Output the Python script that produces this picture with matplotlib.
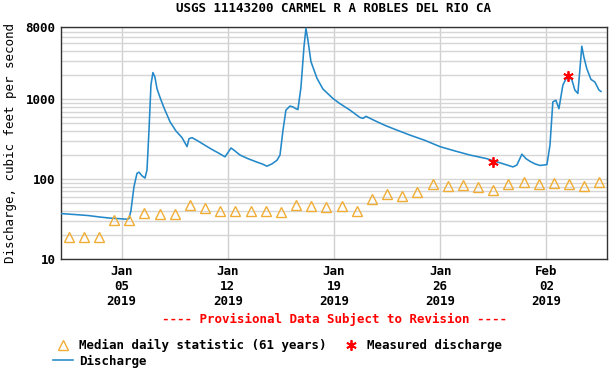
import matplotlib
matplotlib.use("Agg")
import matplotlib.pyplot as plt
import numpy as np
import pandas as pd
from matplotlib.lines import Line2D
from matplotlib.ticker import FixedLocator, NullFormatter

START = pd.Timestamp("2019-01-01")

# median daily statistic, one value per day (Jan 1 .. Feb 5), plotted at noon
median_cfs = [19, 19, 19, 31, 31, 38, 37, 37, 48, 44, 40, 40, 40, 40, 39, 48,
              46, 45, 46, 40, 56, 65, 62, 68, 88, 83, 84, 79, 73, 88, 93, 88,
              90, 88, 82, 93]

# discharge trace: days since Jan 1 00:00, cfs
flow_days = [0.0, 0.92, 1.78, 2.57, 3.23, 4.35, 4.48, 4.61, 4.81, 5.01, 5.14,
             5.34, 5.54, 5.67, 5.80, 5.93, 6.06, 6.19, 6.33, 6.53, 6.79, 7.19,
             7.58, 7.98, 8.31, 8.44, 8.64, 9.03, 9.49, 9.95, 10.42, 10.81,
             11.01, 11.21, 11.47, 11.80, 12.33, 12.85, 13.25, 13.58, 13.91,
             14.24, 14.44, 14.63, 14.83, 15.10, 15.29, 15.49, 15.62, 15.82,
             16.02, 16.15, 16.28, 16.48, 16.88, 17.27, 17.93, 18.39, 19.05,
             19.71, 19.91, 20.11, 20.50, 21.36, 22.15, 23.01, 24.00, 24.98,
             25.97, 26.96, 28.08, 28.48, 28.94, 29.80, 30.06, 30.39, 30.66,
             30.92, 31.25, 31.58, 31.84, 32.04, 32.24, 32.43, 32.63, 32.83,
             33.09, 33.36, 33.42, 33.69, 33.88, 34.08, 34.34, 34.47, 34.67,
             34.94, 35.20, 35.47, 35.60]
flow_cfs = [37, 36, 35, 33.5, 32.5, 31.5, 32, 40, 80, 118, 122,
            110, 103, 130, 400, 1500, 2150, 1900, 1350, 1050, 780, 520,
            400, 330, 255, 320, 330, 300, 265, 235, 210, 190,
            215, 245, 225, 200, 180, 165, 155, 145, 155,
            172, 200, 400, 730, 820, 800, 760, 740, 1400,
            4500, 7700, 5500, 2950, 1820, 1340, 1020, 880, 730,
            590, 575, 610, 560, 470, 410, 355, 305, 255,
            225, 200, 180, 170, 160, 142, 150, 205, 180,
            167, 155, 148, 150, 152, 266, 925, 970, 760,
            1500, 1900, 2000, 1730, 1300, 1180, 4600, 3400, 2400,
            1770, 1640, 1300, 1250]

# field measurements
meas_days = [28.48, 33.42]
meas_cfs = [165, 1950]

y_ticks = [10, 100, 1000, 8000]
x_ticks = ["2019-01-05", "2019-01-12", "2019-01-19", "2019-01-26", "2019-02-02"]

plt.rcParams["font.family"] = ["DejaVu Sans Mono"]
plt.rcParams["font.weight"] = "bold"
FS = 9

fig = plt.figure(figsize=(6.16, 3.68), dpi=100)
ax = fig.add_axes([61 / 616, 1 - 259 / 368, 546 / 616, 232 / 368])

flow_t = START + pd.to_timedelta(flow_days, unit="D")
med_t = START + pd.to_timedelta(np.arange(len(median_cfs)) + 0.5, unit="D")
meas_t = START + pd.to_timedelta(meas_days, unit="D")

blue = "#2389c9"
orange = "#f0ad35"
tri = dict(ls="none", marker="^", ms=6.8, mfc="none", mec=orange, mew=1.0)
star = dict(ls="none", marker=(6, 2, 0), ms=7.5, mec="red", mew=1.3)

ax.plot(flow_t, flow_cfs, color=blue, lw=1.15, zorder=3)
ax.plot(med_t, median_cfs, zorder=4, **tri)
ax.plot(meas_t, meas_cfs, zorder=5, **star)

ax.set_yscale("log")
ax.set_ylim(10, 8000)
ax.set_xlim(START, START + pd.Timedelta(days=36))

ax.yaxis.set_major_locator(FixedLocator(y_ticks))
ax.set_yticklabels([str(v) for v in y_ticks])
minor = [m * 10 ** e for e in (1, 2, 3) for m in range(2, 10) if m * 10 ** e < 8000]
ax.yaxis.set_minor_locator(FixedLocator(minor))
ax.yaxis.set_minor_formatter(NullFormatter())

xt = pd.to_datetime(x_ticks)
ax.set_xticks(xt)
ax.set_xticklabels([d.strftime("%b\n%d\n%Y") for d in xt], linespacing=1.2)

ax.tick_params(which="both", length=0, labelsize=FS, pad=4)
ax.grid(True, which="both", axis="y", color="#d6d6d6", lw=1.0)
ax.grid(True, which="major", axis="x", color="#d0d0d0", lw=1.0)
ax.set_axisbelow(True)
for s in ax.spines.values():
    s.set_color("#333333")
    s.set_linewidth(1.0)

ax.set_ylabel("Discharge, cubic feet per second", fontsize=FS, labelpad=6)
fig.text(334 / 616, 1 - 9 / 368, "USGS 11143200 CARMEL R A ROBLES DEL RIO CA",
         ha="center", va="center", fontsize=FS)
fig.text(334 / 616, 1 - 319 / 368, "---- Provisional Data Subject to Revision ----",
         ha="center", va="center", fontsize=FS, color="red")

handles = [
    Line2D([], [], **tri),
    Line2D([], [], color=blue, lw=1.15),
    Line2D([], [], **star),
]
labels = ["Median daily statistic (61 years)", "Discharge", "Measured discharge"]
fig.legend(handles, labels, loc="upper left", bbox_to_anchor=(53 / 616, 1 - 339 / 368),
           ncol=2, frameon=False, fontsize=FS, handlelength=1.6, handletextpad=0.5,
           columnspacing=1.1, labelspacing=0.2, borderpad=0, borderaxespad=0)

fig.savefig("out.png", dpi=100)
